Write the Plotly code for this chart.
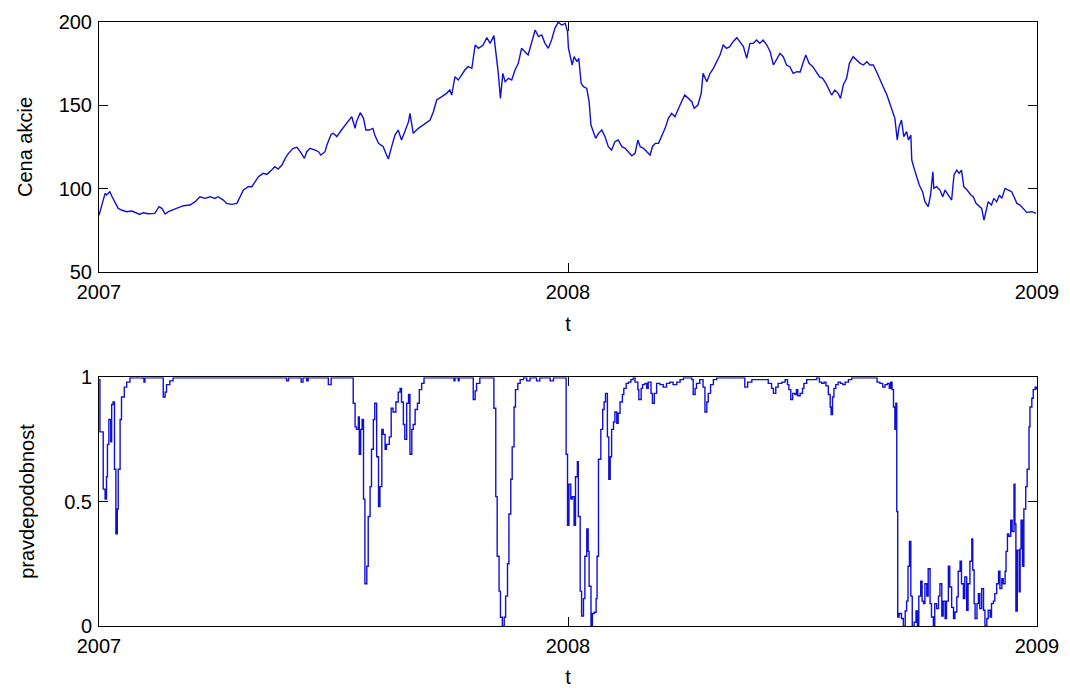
import plotly.graph_objects as go

# ---- data (time as offset in years from 2007) ----
cena_t = [0.000, 0.002, 0.006, 0.013, 0.016, 0.023, 0.028, 0.034, 0.041, 0.048, 0.059, 0.070, 0.080, 0.087,
          0.094, 0.105, 0.119, 0.128, 0.134, 0.141, 0.148, 0.158, 0.169, 0.180, 0.194, 0.205, 0.215, 0.226,
          0.237, 0.247, 0.254, 0.265, 0.272, 0.283, 0.294, 0.301, 0.308, 0.318, 0.326, 0.333, 0.340, 0.350,
          0.358, 0.368, 0.375, 0.382, 0.390, 0.397, 0.404, 0.414, 0.422, 0.429, 0.438, 0.443, 0.450, 0.461,
          0.468, 0.473, 0.482, 0.486, 0.495, 0.500, 0.507, 0.517, 0.525, 0.532, 0.539, 0.546, 0.549, 0.557,
          0.564, 0.569, 0.576, 0.584, 0.588, 0.596, 0.606, 0.613, 0.617, 0.624, 0.631, 0.638, 0.645, 0.652,
          0.660, 0.663, 0.670, 0.681, 0.691, 0.706, 0.713, 0.720, 0.731, 0.741, 0.748, 0.752, 0.759, 0.766,
          0.773, 0.780, 0.787, 0.795, 0.802, 0.809, 0.819, 0.827, 0.834, 0.842, 0.846, 0.851, 0.856, 0.861,
          0.866, 0.873, 0.880, 0.887, 0.894, 0.901, 0.908, 0.915, 0.923, 0.930, 0.937, 0.944, 0.951, 0.958,
          0.965, 0.972, 0.979, 0.987, 0.994, 0.999, 1.001, 1.006, 1.009, 1.013, 1.019, 1.023, 1.028, 1.033,
          1.040, 1.045, 1.049, 1.054, 1.059, 1.065, 1.072, 1.079, 1.086, 1.093, 1.100, 1.107, 1.115, 1.122,
          1.129, 1.136, 1.143, 1.149, 1.154, 1.161, 1.168, 1.175, 1.180, 1.186, 1.193, 1.200, 1.207, 1.214,
          1.221, 1.228, 1.235, 1.242, 1.249, 1.256, 1.264, 1.269, 1.277, 1.284, 1.288, 1.296, 1.303, 1.310,
          1.317, 1.324, 1.331, 1.338, 1.345, 1.352, 1.360, 1.367, 1.374, 1.381, 1.388, 1.395, 1.402, 1.409,
          1.416, 1.424, 1.431, 1.438, 1.445, 1.452, 1.459, 1.466, 1.473, 1.480, 1.488, 1.495, 1.502, 1.507,
          1.514, 1.522, 1.529, 1.536, 1.543, 1.550, 1.557, 1.562, 1.569, 1.576, 1.581, 1.587, 1.594, 1.600,
          1.608, 1.616, 1.623, 1.630, 1.637, 1.644, 1.651, 1.658, 1.665, 1.672, 1.680, 1.685, 1.692, 1.697,
          1.702, 1.706, 1.711, 1.716, 1.722, 1.726, 1.731, 1.733, 1.738, 1.743, 1.749, 1.756, 1.761, 1.768,
          1.773, 1.778, 1.780, 1.786, 1.793, 1.799, 1.804, 1.811, 1.818, 1.823, 1.829, 1.834, 1.839, 1.844,
          1.851, 1.859, 1.864, 1.870, 1.877, 1.882, 1.887, 1.891, 1.896, 1.903, 1.908, 1.914, 1.920, 1.925,
          1.932, 1.939, 1.946, 1.951, 1.957, 1.964, 1.971, 1.978, 1.989, 1.998]
cena = [84.0, 86.2, 90.2, 97.2, 96.2, 98.2, 95.2, 92.2, 88.2, 87.2, 86.2, 86.6, 85.2, 84.6,
        85.6, 85.0, 85.2, 89.2, 88.2, 84.8, 86.2, 87.2, 88.6, 89.8, 90.2, 92.2, 95.2, 94.2,
        95.2, 94.2, 95.2, 93.2, 91.2, 90.6, 91.2, 95.2, 99.2, 101.2, 101.2, 104.2, 107.2, 109.2,
        108.6, 111.2, 113.2, 111.8, 114.2, 118.2, 121.2, 124.2, 124.8, 122.2, 118.2, 122.2, 124.2, 123.2,
        122.2, 120.2, 122.2, 126.2, 132.6, 133.2, 131.2, 135.2, 138.2, 140.2, 143.2, 136.2, 140.2, 145.6,
        142.2, 135.2, 135.2, 136.2, 132.2, 127.2, 125.2, 120.2, 117.8, 125.2, 132.2, 135.2, 129.2, 134.2,
        140.2, 145.2, 133.2, 136.2, 138.2, 141.2, 146.2, 153.2, 155.2, 157.2, 159.2, 156.2, 167.2, 165.2,
        168.2, 171.2, 173.2, 172.2, 186.2, 184.2, 186.2, 190.6, 187.2, 191.8, 182.2, 170.2, 154.2, 169.2,
        164.2, 166.2, 165.2, 171.2, 175.2, 184.2, 182.2, 180.2, 188.2, 195.2, 191.2, 192.2, 187.2, 184.2,
        189.2, 196.2, 199.8, 198.2, 199.2, 194.2, 184.2, 178.2, 174.2, 179.2, 176.2, 178.2, 163.2, 161.2,
        160.2, 152.2, 138.2, 134.2, 130.2, 133.2, 135.2, 131.2, 125.2, 123.2, 128.2, 129.2, 125.2, 124.2,
        122.2, 119.8, 121.2, 129.2, 125.2, 124.2, 122.2, 120.2, 125.2, 127.2, 127.2, 131.2, 136.2, 142.2,
        145.2, 143.2, 148.2, 152.2, 156.2, 154.2, 152.2, 148.2, 150.2, 157.2, 169.2, 164.2, 169.2, 172.2,
        176.2, 180.2, 186.2, 184.2, 185.2, 188.2, 190.6, 188.2, 185.2, 178.2, 187.2, 187.2, 189.2, 187.2,
        189.2, 186.2, 182.2, 174.2, 178.2, 181.2, 179.2, 174.2, 173.2, 169.2, 170.2, 170.0, 176.2, 180.2,
        175.2, 173.2, 170.2, 167.2, 166.2, 163.2, 159.2, 156.2, 159.2, 157.2, 154.2, 162.2, 166.2, 175.2,
        179.2, 177.2, 175.2, 174.2, 176.2, 174.2, 174.2, 170.2, 166.2, 161.2, 156.2, 152.2, 146.2, 142.2,
        129.2, 137.2, 141.2, 131.2, 134.2, 129.2, 132.2, 117.2, 112.2, 108.2, 102.2, 98.2, 92.2, 89.2,
        96.2, 110.2, 100.2, 101.2, 99.2, 95.2, 99.2, 96.2, 93.2, 108.2, 111.2, 109.2, 111.2, 101.2,
        99.2, 96.2, 95.2, 91.2, 89.2, 88.2, 81.2, 86.2, 92.2, 90.2, 94.2, 92.2, 96.2, 94.2,
        100.2, 99.2, 98.2, 95.2, 91.2, 90.2, 88.2, 85.8, 86.2, 85.2]

pravd_t = [0.000, 0.002, 0.006, 0.009, 0.013, 0.016, 0.018, 0.021, 0.025, 0.027, 0.030, 0.033, 0.036, 0.039,
           0.041, 0.045, 0.048, 0.054, 0.059, 0.066, 0.094, 0.096, 0.098, 0.134, 0.137, 0.141, 0.144, 0.151,
           0.158, 0.397, 0.400, 0.404, 0.429, 0.431, 0.435, 0.443, 0.446, 0.486, 0.489, 0.495, 0.541, 0.542,
           0.546, 0.549, 0.553, 0.555, 0.558, 0.561, 0.564, 0.567, 0.571, 0.574, 0.578, 0.581, 0.585, 0.588,
           0.592, 0.596, 0.599, 0.603, 0.606, 0.610, 0.613, 0.619, 0.623, 0.627, 0.633, 0.638, 0.642, 0.645,
           0.649, 0.652, 0.656, 0.660, 0.663, 0.667, 0.670, 0.674, 0.679, 0.683, 0.688, 0.693, 0.755, 0.757,
           0.759, 0.766, 0.768, 0.795, 0.798, 0.802, 0.805, 0.812, 0.841, 0.842, 0.846, 0.849, 0.853, 0.856,
           0.860, 0.864, 0.867, 0.871, 0.874, 0.878, 0.881, 0.885, 0.888, 0.893, 0.898, 0.905, 0.912, 0.919,
           0.933, 0.940, 0.962, 0.969, 0.994, 0.996, 0.999, 1.002, 1.006, 1.009, 1.013, 1.016, 1.020, 1.022,
           1.026, 1.029, 1.033, 1.036, 1.040, 1.043, 1.045, 1.049, 1.052, 1.056, 1.060, 1.062, 1.065, 1.070,
           1.074, 1.077, 1.080, 1.084, 1.087, 1.090, 1.093, 1.097, 1.100, 1.104, 1.107, 1.111, 1.116, 1.119,
           1.124, 1.129, 1.134, 1.139, 1.143, 1.149, 1.151, 1.156, 1.159, 1.164, 1.168, 1.171, 1.177, 1.180,
           1.184, 1.189, 1.196, 1.203, 1.210, 1.217, 1.224, 1.232, 1.239, 1.246, 1.264, 1.267, 1.271, 1.274,
           1.281, 1.288, 1.292, 1.296, 1.299, 1.304, 1.310, 1.317, 1.374, 1.377, 1.383, 1.392, 1.420, 1.427,
           1.434, 1.438, 1.443, 1.448, 1.456, 1.463, 1.468, 1.471, 1.475, 1.479, 1.484, 1.487, 1.490, 1.495,
           1.500, 1.503, 1.509, 1.516, 1.523, 1.530, 1.536, 1.541, 1.546, 1.550, 1.555, 1.559, 1.561, 1.564,
           1.567, 1.571, 1.576, 1.581, 1.586, 1.591, 1.598, 1.605, 1.658, 1.659, 1.665, 1.671, 1.676, 1.681,
           1.685, 1.688, 1.691, 1.694, 1.697, 1.699, 1.701, 1.703, 1.706, 1.711, 1.715, 1.719, 1.722, 1.725,
           1.728, 1.731, 1.734, 1.738, 1.742, 1.745, 1.748, 1.752, 1.755, 1.758, 1.761, 1.765, 1.768, 1.772,
           1.775, 1.779, 1.782, 1.786, 1.790, 1.793, 1.797, 1.800, 1.804, 1.807, 1.811, 1.814, 1.818, 1.822,
           1.825, 1.829, 1.832, 1.836, 1.839, 1.843, 1.846, 1.850, 1.853, 1.857, 1.861, 1.863, 1.866, 1.868,
           1.872, 1.875, 1.878, 1.882, 1.886, 1.889, 1.893, 1.896, 1.900, 1.903, 1.907, 1.910, 1.914, 1.918,
           1.921, 1.925, 1.928, 1.932, 1.934, 1.937, 1.940, 1.944, 1.947, 1.951, 1.953, 1.955, 1.958, 1.962,
           1.964, 1.966, 1.969, 1.972, 1.976, 1.979, 1.983, 1.985, 1.989, 1.992, 1.996, 1.999]
pravd = [0.99, 0.78, 0.78, 0.55, 0.51, 0.60, 0.73, 0.83, 0.74, 0.89, 0.90, 0.63, 0.37, 0.47,
         0.63, 0.83, 0.92, 0.96, 0.98, 0.997, 0.995, 0.98, 0.997, 0.997, 0.92, 0.94, 0.97, 0.985,
         0.997, 0.997, 0.985, 0.997, 0.997, 0.98, 0.997, 0.985, 0.997, 0.997, 0.97, 0.997, 0.997, 0.895,
         0.80, 0.79, 0.84, 0.69, 0.79, 0.83, 0.51, 0.17, 0.24, 0.44, 0.56, 0.71, 0.83, 0.895,
         0.68, 0.48, 0.56, 0.79, 0.77, 0.71, 0.73, 0.76, 0.875, 0.86, 0.90, 0.94, 0.955, 0.90,
         0.81, 0.75, 0.895, 0.93, 0.69, 0.79, 0.81, 0.87, 0.895, 0.95, 0.975, 0.997, 0.997, 0.985,
         0.997, 0.985, 0.997, 0.997, 0.91, 0.945, 0.975, 0.997, 0.997, 0.875, 0.52, 0.28, 0.14, 0.035,
         0.0, 0.035, 0.12, 0.25, 0.45, 0.59, 0.72, 0.88, 0.95, 0.975, 0.99, 0.997, 0.985, 0.997,
         0.985, 0.997, 0.985, 0.997, 0.997, 0.69, 0.405, 0.57, 0.51, 0.52, 0.405, 0.60, 0.66, 0.44,
         0.14, 0.04, 0.11, 0.28, 0.39, 0.30, 0.16, 0.0, 0.05, 0.055, 0.11, 0.28, 0.67, 0.79,
         0.87, 0.90, 0.935, 0.76, 0.59, 0.68, 0.79, 0.82, 0.86, 0.815, 0.855, 0.90, 0.93, 0.955,
         0.975, 0.98, 0.99, 0.997, 0.98, 0.95, 0.91, 0.955, 0.97, 0.975, 0.955, 0.98, 0.935, 0.895,
         0.935, 0.975, 0.97, 0.96, 0.975, 0.98, 0.97, 0.98, 0.99, 0.997, 0.99, 0.93, 0.955, 0.975,
         0.99, 0.96, 0.86, 0.90, 0.935, 0.97, 0.99, 0.997, 0.997, 0.96, 0.98, 0.99, 0.99, 0.975,
         0.955, 0.935, 0.96, 0.975, 0.98, 0.99, 0.97, 0.95, 0.91, 0.935, 0.93, 0.95, 0.925, 0.935,
         0.955, 0.975, 0.99, 0.99, 0.99, 0.997, 0.98, 0.975, 0.98, 0.965, 0.93, 0.88, 0.85, 0.92,
         0.955, 0.97, 0.98, 0.975, 0.97, 0.98, 0.99, 0.997, 0.997, 0.98, 0.975, 0.96, 0.97, 0.975,
         0.955, 0.98, 0.95, 0.88, 0.79, 0.895, 0.46, 0.036, 0.05, 0.03, 0.0, 0.06, 0.10, 0.24,
         0.34, 0.12, 0.0, 0.015, 0.06, 0.0, 0.12, 0.18, 0.10, 0.09, 0.17, 0.12, 0.23, 0.09,
         0.036, 0.0, 0.09, 0.07, 0.12, 0.17, 0.04, 0.10, 0.03, 0.10, 0.24, 0.157, 0.075, 0.03,
         0.056, 0.117, 0.22, 0.26, 0.17, 0.11, 0.197, 0.063, 0.17, 0.26, 0.35, 0.225, 0.09, 0.03,
         0.09, 0.13, 0.07, 0.15, 0.063, 0.0, 0.03, 0.063, 0.036, 0.09, 0.10, 0.13, 0.17, 0.22,
         0.15, 0.19, 0.17, 0.22, 0.30, 0.37, 0.36, 0.425, 0.38, 0.57, 0.41, 0.06, 0.305, 0.137,
         0.31, 0.425, 0.24, 0.47, 0.56, 0.63, 0.80, 0.88, 0.915, 0.95, 0.96, 0.95]

start_year = 2007
roky = [2007, 2008, 2009]
cena_ticks = [50, 100, 150, 200]
pravd_ticks = [0, 0.5, 1]
pravd_ticktext = ["0", "0.5", "1"]

x_cena = [start_year + v for v in cena_t]
x_pravd = [start_year + v for v in pravd_t]

LINE = dict(color="#1010d4", width=1.4)
FONT = dict(family="Liberation Sans, Arial, sans-serif", size=20, color="black")

fig = go.Figure()
fig.add_trace(go.Scatter(x=x_cena, y=cena, mode="lines", line=LINE, xaxis="x", yaxis="y",
                         showlegend=False, hoverinfo="skip"))
fig.add_trace(go.Scatter(x=x_pravd, y=pravd, mode="lines", line=dict(LINE, shape="hv"),
                         xaxis="x2", yaxis="y2", showlegend=False, hoverinfo="skip"))

axis_common = dict(showline=True, linecolor="black", linewidth=1, mirror="ticks",
                   ticks="inside", ticklen=9, tickwidth=1, tickcolor="black",
                   showgrid=False, zeroline=False, tickfont=FONT, automargin=False)

fig.update_layout(
    width=1070, height=688,
    margin=dict(l=99, r=33, t=22, b=62, autoexpand=False),
    paper_bgcolor="white", plot_bgcolor="white",
    font=FONT,
    xaxis=dict(axis_common, domain=[0, 1], range=[2007, 2009], tickmode="array",
               tickvals=roky, ticktext=[str(r) for r in roky], anchor="y",
               ticklabelstandoff=2,
               title=dict(text="t", font=FONT, standoff=14)),
    yaxis=dict(axis_common, domain=[0.586, 1], range=[50, 200], tickmode="array",
               tickvals=cena_ticks, anchor="x", ticklabelstandoff=2,
               title=dict(text="Cena akcie", font=FONT, standoff=20)),
    xaxis2=dict(axis_common, domain=[0, 1], range=[2007, 2009], tickmode="array",
                tickvals=roky, ticktext=[str(r) for r in roky], anchor="y2",
                ticklabelstandoff=2,
                title=dict(text="t", font=FONT, standoff=14)),
    yaxis2=dict(axis_common, domain=[0, 0.412], range=[0, 1], tickmode="array",
                tickvals=pravd_ticks, ticktext=pravd_ticktext, anchor="x2",
                ticklabelstandoff=2,
                title=dict(text="pravdepodobnost", font=FONT, standoff=24)),
)

fig.write_html("out.html")
